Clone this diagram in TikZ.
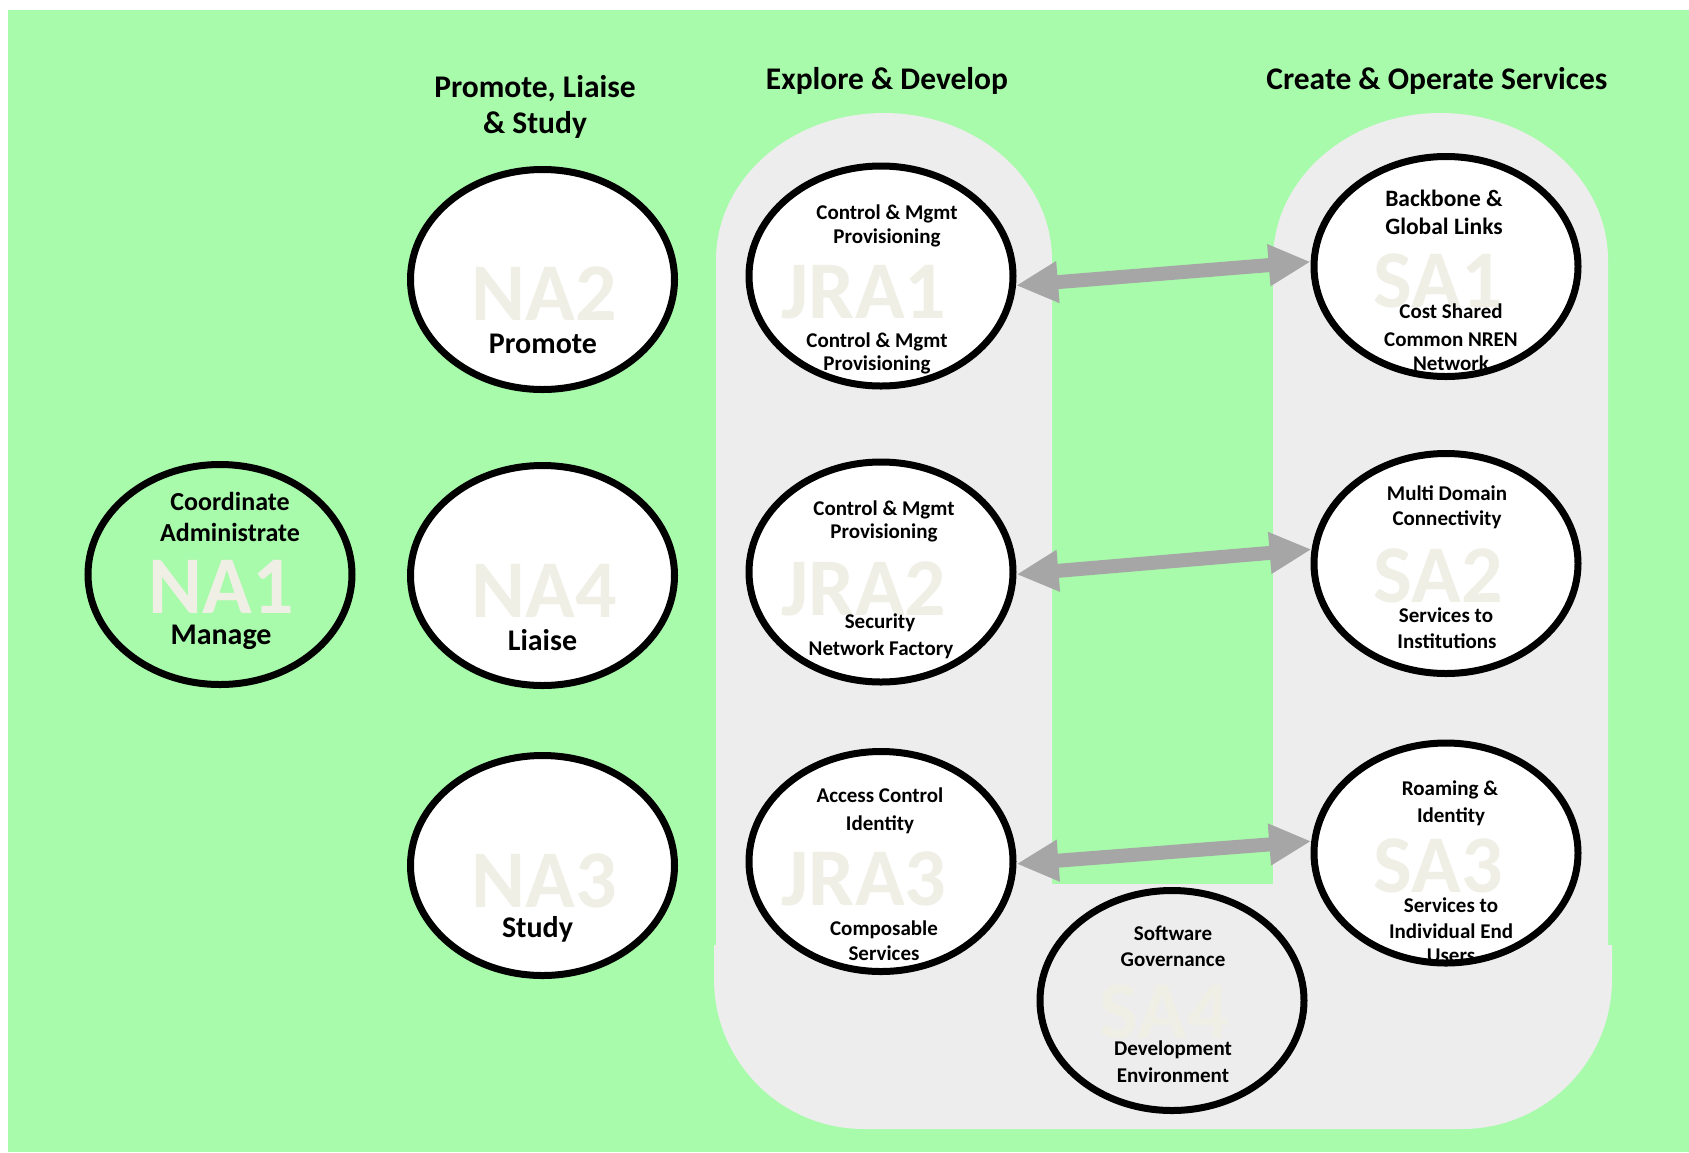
\documentclass[tikz,border=0pt]{standalone}
\usepackage{fontspec}
\setmainfont{Carlito}
\usetikzlibrary{shapes.geometric,arrows.meta}

\definecolor{meadow}{RGB}{168,251,170}
\definecolor{panel}{RGB}{237,237,237}
\definecolor{ghost}{RGB}{239,239,230}
\definecolor{linkgray}{RGB}{166,166,166}

\begin{document}
\begin{tikzpicture}[x=1pt,y=-1pt,
  bubble/.style={ellipse, minimum width=264pt, minimum height=220pt,
    inner sep=0pt, outer sep=3.5pt, fill=white},
  hollow/.style={bubble, fill=none},
  rim/.style={draw=black, line width=7pt},
  head/.style={font=\fontsize{31.5}{36}\selectfont\bfseries, anchor=base, inner sep=0pt},
  role/.style={font=\fontsize{30}{34}\selectfont\bfseries, anchor=base, inner sep=0pt},
  lead/.style={font=\fontsize{26}{30}\selectfont\bfseries, anchor=base, inner sep=0pt},
  duty/.style={font=\fontsize{21}{25}\selectfont\bfseries, anchor=base, inner sep=0pt},
  dutyL/.style={font=\fontsize{23.5}{28}\selectfont\bfseries, anchor=base, inner sep=0pt},
  ghostmark/.style={font=\fontsize{82}{82}\selectfont\bfseries, text=ghost, anchor=base, inner sep=0pt},
  bridge/.style={draw=linkgray, line width=14pt,
    arrows={Triangle[length=42pt,width=39pt]-Triangle[length=42pt,width=39pt]}}
]
% canvas
\useasboundingbox (0,0) rectangle (1689,1152);
\fill[white] (0,0) rectangle (1689,1152);
\fill[meadow] (8,10) rectangle (1689,1152);

% grey areas behind the JRA and SA columns
\fill[panel] (716,1000) -- (716,260)
  .. controls (716,178.8) and (791.2,113) .. (884,113)
  .. controls (976.8,113) and (1052,178.8) .. (1052,260)
  -- (1052,1000) -- cycle;
\fill[panel] (1273,1000) -- (1273,260)
  .. controls (1273,178.8) and (1348,113) .. (1440.5,113)
  .. controls (1533,113) and (1608,178.8) .. (1608,260)
  -- (1608,1000) -- cycle;
\fill[panel] (1050,884) rectangle (1275,1000);
\fill[panel, rounded corners=150pt] (714,945) -- (714,1129) -- (1612,1129) -- (1612,945);

% column headings
\node[head] (hpls1) at (535,97) {Promote, Liaise};
\node[head] (hpls2) at (535,133) {\& Study};
\node[head] (hexp) at (887,89) {Explore \& Develop};
\node[head] (hops) at (1437,89) {Create \& Operate Services};

% activity bubbles
\node[hollow] (na1) at (220,574.5) {};
\node[bubble] (na2) at (542.5,279.5) {};
\node[bubble] (na4) at (542.5,575.5) {};
\node[bubble] (na3) at (542.5,865.5) {};
\node[bubble] (jra1) at (881,276) {};
\node[bubble] (jra2) at (881,572) {};
\node[bubble] (jra3) at (881,861.5) {};
\node[bubble] (sa1) at (1446,266.5) {};
\node[bubble] (sa2) at (1446,563.5) {};
\node[bubble] (sa3) at (1446,853) {};
\node[hollow] (sa4) at (1172,1000.5) {};

% links between research and service activities
\draw[bridge] (jra1.-4) -- (sa1.178);
\draw[bridge] (jra2.-1) -- (sa2.174);
\draw[bridge] (jra3.-1) -- (sa3.175);

% NA1
\node[lead] (na1a) at (230,510) {Coordinate};
\node[lead] (na1b) at (230,541) {Administrate};
\node[ghostmark] (na1w) at (221.5,613) {NA1};
\node[role] (na1c) at (221,644) {Manage};
% NA2, NA4, NA3
\node[ghostmark] (na2w) at (544,320) {NA2};
\node[role] (na2a) at (543,353) {Promote};
\node[ghostmark] (na4w) at (544.5,617) {NA4};
\node[role] (na4a) at (542.5,650) {Liaise};
\node[ghostmark] (na3w) at (544,907) {NA3};
\node[role] (na3a) at (537.5,937) {Study};

% JRA1
\node[duty] (j1a) at (887,219) {Control \& Mgmt};
\node[duty] (j1b) at (887,243) {Provisioning};
\node[ghostmark] (j1w) at (864,318) {JRA1};
\node[duty] (j1c) at (877,347) {Control \& Mgmt};
\node[duty] (j1d) at (877,370) {Provisioning};
% JRA2
\node[duty] (j2a) at (884,515) {Control \& Mgmt};
\node[duty] (j2b) at (884,538) {Provisioning};
\node[ghostmark] (j2w) at (864,615) {JRA2};
\node[duty] (j2c) at (880,628) {Security};
\node[duty] (j2d) at (881,655) {Network Factory};
% JRA3
\node[duty] (j3a) at (880,802) {Access Control};
\node[duty] (j3b) at (880,830) {Identity};
\node[ghostmark] (j3w) at (864,905) {JRA3};
\node[duty] (j3c) at (884,935) {Composable};
\node[duty] (j3d) at (884,960) {Services};

% SA1
\node[dutyL] (s1a) at (1444,206) {Backbone \&};
\node[dutyL] (s1b) at (1444,234) {Global Links};
\node[ghostmark] (s1w) at (1438,307) {SA1};
\node[duty] (s1c) at (1451,318) {Cost Shared};
\node[duty] (s1d) at (1451,346) {Common NREN};
\node[duty] (s1e) at (1451,370) {Network};
% SA2
\node[duty] (s2a) at (1447,500) {Multi Domain};
\node[duty] (s2b) at (1447,525) {Connectivity};
\node[ghostmark] (s2w) at (1438,602) {SA2};
\node[duty] (s2c) at (1446,622) {Services to};
\node[duty] (s2d) at (1447,648) {Institutions};
% SA3
\node[duty] (s3a) at (1450,795) {Roaming \&};
\node[duty] (s3b) at (1451,822) {Identity};
\node[ghostmark] (s3w) at (1438,892) {SA3};
\node[duty] (s3c) at (1451,912) {Services to};
\node[duty] (s3d) at (1451,938) {Individual End};
\node[duty] (s3e) at (1451,962) {Users};
% SA4
\node[duty] (s4a) at (1173,940) {Software};
\node[duty] (s4b) at (1173,966) {Governance};
\node[ghostmark] (s4w) at (1164,1038) {SA4};
\node[duty] (s4c) at (1173,1055) {Development};
\node[duty] (s4d) at (1173,1082) {Environment};

% bubble outlines, drawn over the labels
\foreach \b in {na1,na2,na4,na3,jra1,jra2,jra3,sa1,sa2,sa3,sa4}
  \draw[rim] (\b.center) ellipse [x radius=132pt, y radius=110pt];
\end{tikzpicture}
\end{document}
